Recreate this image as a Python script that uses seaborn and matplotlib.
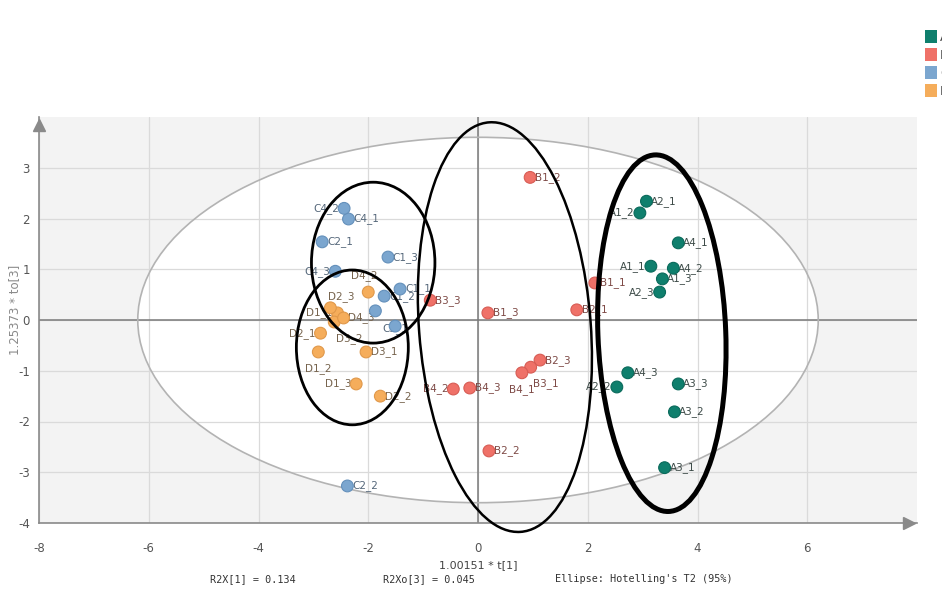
import numpy as np
import pandas as pd
import matplotlib
matplotlib.use("Agg")
import matplotlib.pyplot as plt
from matplotlib.patches import Ellipse, Patch
from matplotlib import font_manager
import seaborn as sns

# scores
samples = ["A1_1", "A1_2", "A1_3", "A2_1", "A2_2", "A2_3", "A3_1", "A3_2", "A3_3", "A4_1", "A4_2", "A4_3",
           "B1_1", "B1_2", "B1_3", "B2_1", "B2_2", "B2_3", "B3_1", "B3_3", "B4_1", "B4_2", "B4_3",
           "C1_1", "C1_2", "C1_3", "C2_1", "C2_2", "C3_1", "C3_2", "C4_1", "C4_2", "C4_3",
           "D1_1", "D1_2", "D1_3", "D2_1", "D2_2", "D2_3", "D3_1", "D3_2", "D4_2", "D4_3"]
t1 = [3.15, 2.95, 3.36, 3.07, 2.53, 3.31, 3.40, 3.58, 3.65, 3.65, 3.56, 2.73,
      2.13, 0.95, 0.18, 1.80, 0.20, 1.13, 0.96, -0.87, 0.80, -0.45, -0.15,
      -1.42, -1.71, -1.64, -2.84, -2.38, -1.51, -1.87, -2.36, -2.44, -2.60,
      -2.56, -2.91, -2.22, -2.87, -1.78, -2.69, -2.04, -2.62, -2.00, -2.45]
to3 = [1.06, 2.11, 0.81, 2.34, -1.32, 0.55, -2.91, -1.81, -1.26, 1.52, 1.02, -1.04,
       0.73, 2.81, 0.14, 0.20, -2.58, -0.79, -0.93, 0.39, -1.04, -1.36, -1.34,
       0.61, 0.47, 1.24, 1.54, -3.27, -0.12, 0.18, 1.99, 2.20, 0.96,
       0.14, -0.63, -1.26, -0.26, -1.50, 0.24, -0.63, -0.04, 0.55, 0.04]
groups = [s[0] for s in samples]
group_order = ["A", "B", "C", "D"]

# label placement relative to the point (default: right)
label_side = {"A1_2": "left", "A1_1": "left", "A2_3": "left", "A2_2": "left",
              "B3_1": "below_right", "B4_1": "below", "B4_2": "left",
              "C4_2": "left", "C4_3": "left", "C3_1": "center", "C3_2": "none",
              "D4_2": "above", "D2_3": "above_right", "D1_1": "left", "D3_2": "below_right",
              "D2_1": "left", "D1_2": "below", "D1_3": "left"}

# Hotelling's T2 (95%) semi axes
t2_a, t2_b = 6.2, 3.6

# hand drawn highlight ellipses
ring_cx = [-1.91, -2.29, 0.49, 3.35]
ring_cy = [1.13, -0.54, -0.14, -0.26]
ring_w = [2.25, 2.04, 3.13, 2.33]
ring_h = [3.17, 3.05, 8.09, 7.03]
ring_angle = [0, 0, 4, 2]
ring_lw = [2.0, 2.0, 1.8, 3.6]

palette = {"A": "#0f7f6d", "B": "#ef7168", "C": "#7ba6cf", "D": "#f5ad5b"}
edges = {"A": "#0a6a5b", "B": "#d75c54", "C": "#6490bb", "D": "#e0984a"}
text_cols = {"A": "#3c4a47", "B": "#7e4a46", "C": "#55677a", "D": "#76634d"}

sns.set_style("white")
avail = {f.name for f in font_manager.fontManager.ttflist}
narrow = "Liberation Sans Narrow" if "Liberation Sans Narrow" in avail else "DejaVu Sans"
plt.rcParams["font.family"] = [narrow, "DejaVu Sans"]
plt.rcParams["axes.unicode_minus"] = False

df = pd.DataFrame({"sample": samples, "t1": t1, "to3": to3, "group": groups})

fig = plt.figure(figsize=(9.42, 5.89), dpi=100)
ax = fig.add_axes([39 / 942, 66 / 589, 878 / 942, 406 / 589])
ax.set_facecolor("#f3f3f3")
ax.set_xlim(-8, 8)
ax.set_ylim(-4, 4)

ax.add_patch(Ellipse((0, 0), 2 * t2_a, 2 * t2_b, facecolor="white", edgecolor="none", zorder=0.3))
ax.add_patch(Ellipse((0, 0), 2 * t2_a, 2 * t2_b, fill=False, edgecolor="#b3b3b3", lw=1.2, zorder=1.2))

ax.set_xticks(np.arange(-8, 7, 2))
ax.set_xticks(np.arange(-7, 8, 2), minor=True)
ax.set_yticks(np.arange(-4, 4, 1))
ax.set_yticks(np.arange(-3.5, 4, 1), minor=True)
ax.set_axisbelow(True)
ax.grid(True, which="major", color="#dadada", lw=0.9)
ax.axhline(0, color="#7a7a7a", lw=1.1, zorder=1.1)
ax.axvline(0, color="#7a7a7a", lw=1.1, zorder=1.1)

sns.scatterplot(data=df, x="t1", y="to3", hue="group", hue_order=group_order, palette=palette,
                s=72, edgecolor=[edges[g] for g in df["group"]], linewidth=0.8,
                legend=False, ax=ax, zorder=3)

offsets = {"right": (3.5, 0, "left", "center"), "left": (-3.5, 0, "right", "center"),
           "below": (0, -12, "center", "center"), "below_right": (11, -12, "center", "center"),
           "above": (-3, 12, "center", "center"), "above_right": (8, 8, "center", "center"),
           "center": (0, -2, "center", "center")}
for _, r in df.iterrows():
    side = label_side.get(r["sample"], "right")
    if side == "none":
        continue
    dx, dy, ha, va = offsets[side]
    ax.annotate(r["sample"], (r["t1"], r["to3"]), xytext=(dx, dy), textcoords="offset points",
                ha=ha, va=va, fontsize=7.5, color=text_cols[r["group"]], zorder=2)

for cx, cy, w, h, ang, lw in zip(ring_cx, ring_cy, ring_w, ring_h, ring_angle, ring_lw):
    ax.add_patch(Ellipse((cx, cy), w, h, angle=ang, fill=False, edgecolor="black", lw=lw,
                         zorder=4, clip_on=False))

for s in ["top", "right"]:
    ax.spines[s].set_visible(False)
for s in ["left", "bottom"]:
    ax.spines[s].set_color("#8a8a8a")
    ax.spines[s].set_linewidth(1.2)
ax.plot(1 - 8 / 878, 0, marker=">", ms=9, color="#8a8a8a", transform=ax.transAxes, clip_on=False)
ax.plot(0, 1 - 8 / 406, marker="^", ms=9, color="#8a8a8a", transform=ax.transAxes, clip_on=False)

ax.tick_params(axis="both", which="both", direction="out", colors="#9a9a9a", labelcolor="#555555",
               labelsize=8.5, width=0.8)
ax.tick_params(axis="x", which="major", length=5, pad=9)
ax.tick_params(axis="x", which="minor", length=4)
ax.tick_params(axis="y", which="major", length=5, pad=1.5)
ax.tick_params(axis="y", which="minor", length=3)
ax.set_xlabel("")
ax.set_ylabel("")

fig.text(15 / 942, 1 - 310 / 589, "1.25373 * to[3]", rotation=90, ha="center", va="center",
         fontsize=8.5, color="#8a8a8a", family=["DejaVu Sans"])
fig.text(478 / 942, 1 - 565 / 589, "1.00151 * t[1]", ha="center", va="center", fontsize=8, color="#444444")
mono = ["DejaVu Sans Mono"]
fig.text(210 / 942, 1 - 579 / 589, "R2X[1] = 0.134", ha="left", va="center", fontsize=7.3, color="#333333", family=mono)
fig.text(383 / 942, 1 - 579 / 589, "R2Xo[3] = 0.045", ha="left", va="center", fontsize=7.3, color="#333333", family=mono)
fig.text(555 / 942, 1 - 579 / 589, "Ellipse: Hotelling's T2 (95%)", ha="left", va="center", fontsize=7.3,
         color="#333333", family=mono)

handles = [Patch(facecolor=palette[g], edgecolor="none", label=g) for g in group_order]
fig.legend(handles=handles, loc="upper left", bbox_to_anchor=(925 / 942, 1 - 30 / 589),
           bbox_transform=fig.transFigure, frameon=False, borderpad=0, borderaxespad=0,
           handlelength=0.95, handleheight=1.2, labelspacing=0.36, handletextpad=0.25, fontsize=9,
           labelcolor="#444444")

fig.savefig("out.png", dpi=100)
